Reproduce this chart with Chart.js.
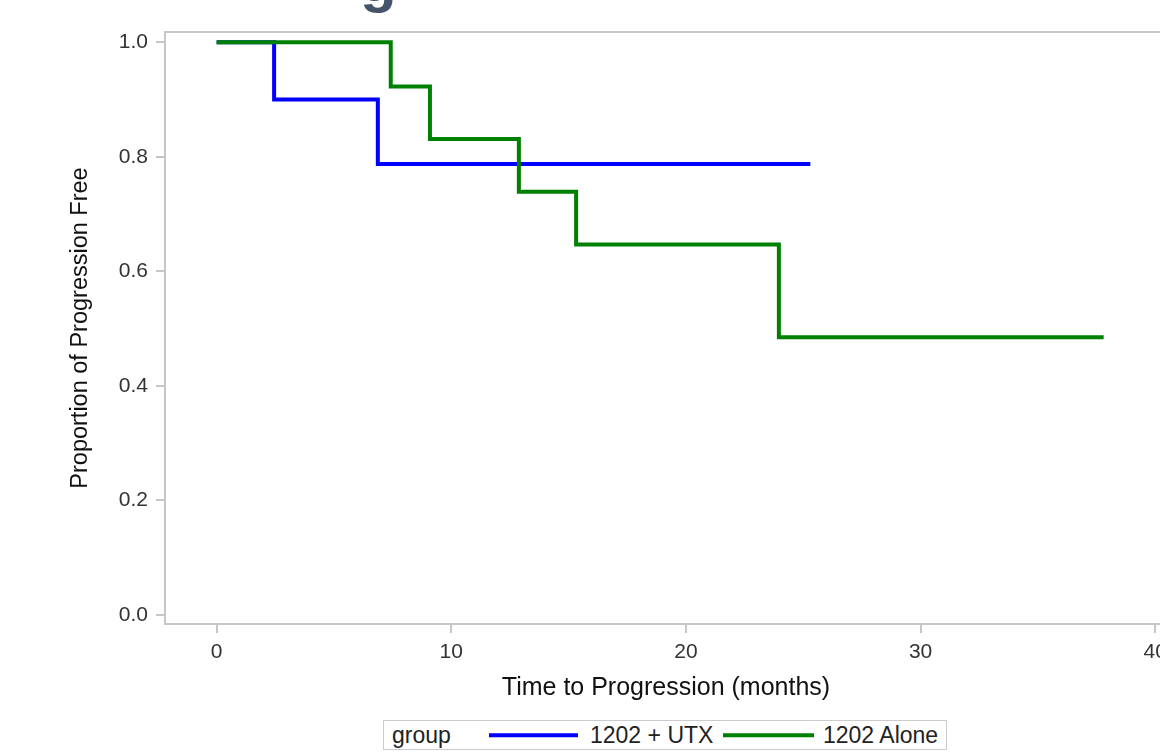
<!DOCTYPE html>
<html>
<head>
<meta charset="utf-8">
<script src="https://cdn.jsdelivr.net/npm/chart.js@4.4.1/dist/chart.umd.min.js"></script>
<style>
  html, body { margin: 0; padding: 0; background: #fff; }
  #wrap { position: relative; width: 1160px; height: 755px; overflow: hidden; }
  #km { position: absolute; left: 0; top: 0; }
  #heading { position: absolute; left: 360px; top: -49px; font: bold 60px/60px "Liberation Sans", Arial, sans-serif; color: #44546a; }
  #legend { position: absolute; left: 383px; top: 720px; width: 564px; height: 30px; box-sizing: border-box;
            border: 1.5px solid #c9cbcd; font-family: "Liberation Sans", Arial, sans-serif; font-size: 23px; color: #222; }
  #legend span { position: absolute; top: 50%; transform: translateY(-50%); white-space: nowrap; line-height: 1; }
  #legend .ln { height: 3.5px; }
</style>
</head>
<body>
<div id="wrap">
  <div id="heading">g</div>
  <canvas id="km" width="1180" height="712"></canvas>
  <div id="legend"></div>
</div>
<script>
// Kaplan-Meier steps
const utxMonths = [0, 2.45, 6.87, 25.3];
const utxSurvival = [1.0, 0.9, 0.7875, 0.7875];
const aloneMonths = [0, 7.42, 9.09, 12.88, 15.32, 23.96, 37.8];
const aloneSurvival = [1.0, 0.923, 0.831, 0.739, 0.647, 0.485, 0.485];

const xTicks = [0, 10, 20, 30, 40];
const yTicks = [0.0, 0.2, 0.4, 0.6, 0.8, 1.0];
const groupNames = ['1202 + UTX', '1202 Alone'];
const groupColors = ['#0000ff', '#008000'];

const FONT = '"Liberation Sans", Arial, sans-serif';
const AXIS_GRAY = '#c4c7ca';

function toPoints(months, surv) {
  return months.map((m, i) => ({ x: m, y: surv[i] }));
}

// grey box round the plot area
const frame = {
  id: 'frame',
  beforeDatasetsDraw(chart) {
    const { ctx, chartArea: a } = chart;
    ctx.save();
    ctx.strokeStyle = AXIS_GRAY;
    ctx.lineWidth = 2;
    ctx.strokeRect(a.left, a.top, a.right - a.left, a.bottom - a.top);
    ctx.restore();
  }
};

new Chart(document.getElementById('km').getContext('2d'), {
  type: 'line',
  data: {
    datasets: [
      {
        label: groupNames[0],
        data: toPoints(utxMonths, utxSurvival),
        borderColor: groupColors[0],
        order: 1
      },
      {
        label: groupNames[1],
        data: toPoints(aloneMonths, aloneSurvival),
        borderColor: groupColors[1],
        order: 0
      }
    ].map(d => Object.assign(d, {
      stepped: 'before',
      borderWidth: 4,
      pointRadius: 0,
      fill: false,
      borderJoinStyle: 'miter',
      borderCapStyle: 'butt'
    }))
  },
  options: {
    responsive: false,
    animation: false,
    layout: { padding: { top: 32, right: 13, bottom: 0, left: 0 } },
    plugins: { legend: { display: false }, tooltip: { enabled: false } },
    scales: {
      x: {
        type: 'linear',
        min: -2.2,
        max: 40.5,
        afterBuildTicks: s => { s.ticks = xTicks.map(v => ({ value: v })); },
        afterFit: s => { s.height = 88; },
        grid: { drawOnChartArea: false, drawTicks: true, tickLength: 9, color: AXIS_GRAY, lineWidth: 2 },
        border: { display: false },
        ticks: { padding: 7, color: '#333', maxRotation: 0, font: { family: FONT, size: 21 } },
        title: {
          display: true, text: 'Time to Progression (months)', color: '#111',
          font: { family: FONT, size: 25 }, padding: { top: 0, bottom: 9 }
        }
      },
      y: {
        type: 'linear',
        min: -0.016,
        max: 1.018,
        afterBuildTicks: s => { s.ticks = yTicks.map(v => ({ value: v })); },
        afterFit: s => { s.width = 165; },
        grid: { drawOnChartArea: false, drawTicks: true, tickLength: 9, color: AXIS_GRAY, lineWidth: 2 },
        border: { display: false },
        ticks: { padding: 8, color: '#333', font: { family: FONT, size: 21 }, callback: v => v.toFixed(1) },
        title: {
          display: true, text: 'Proportion of Progression Free', color: '#111',
          font: { family: FONT, size: 23.5 }, padding: { top: 66, bottom: 0 }
        }
      }
    }
  },
  plugins: [frame]
});

// legend: "group" then one line sample per series
const legend = document.getElementById('legend');
const legendParts = [
  { text: 'group', left: 8 },
  { line: groupColors[0], left: 105, width: 89 },
  { text: groupNames[0], left: 206 },
  { line: groupColors[1], left: 339, width: 91 },
  { text: groupNames[1], left: 439 }
];
legendParts.forEach(p => {
  const el = document.createElement('span');
  el.style.left = p.left + 'px';
  if (p.line) {
    el.className = 'ln';
    el.style.width = p.width + 'px';
    el.style.background = p.line;
  } else {
    el.textContent = p.text;
  }
  legend.appendChild(el);
});
</script>
</body>
</html>
